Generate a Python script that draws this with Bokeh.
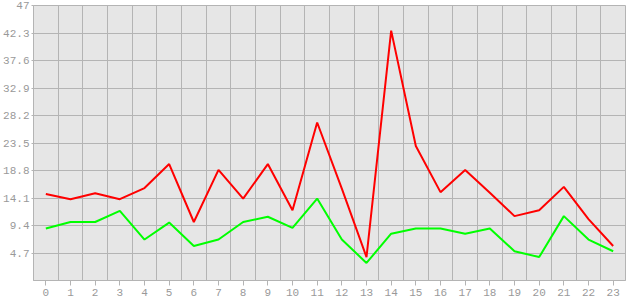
from bokeh.plotting import figure
from bokeh.models import FixedTicker, Range1d
from bokeh.embed import file_html
from bokeh.resources import INLINE

hours = list(range(24))
red_values = [14.8, 13.9, 14.9, 13.9, 15.8, 19.9, 10.0, 18.9, 14.0, 19.9, 12.0, 27.0,
              15.7, 4.0, 42.7, 23.0, 15.1, 18.9, 15.0, 11.0, 12.0, 16.0, 10.5, 5.9]
green_values = [8.9, 10.0, 10.0, 11.9, 7.0, 9.9, 5.9, 7.0, 10.0, 10.9, 9.0, 14.0,
                7.0, 3.0, 8.0, 8.9, 8.9, 8.0, 8.9, 5.0, 4.0, 11.0, 7.0, 5.0]
y_tick_labels = ["4.7", "9.4", "14.1", "18.8", "23.5", "28.2", "32.9", "37.6", "42.3", "47"]
y_ticks = [float(t) for t in y_tick_labels]

GRID = "#b4b4b4"
LABEL = "#999999"
FONT = "Liberation Mono"

p = figure(width=630, height=300, output_backend="svg", toolbar_location=None,
           x_range=Range1d(-0.5, 23.5), y_range=Range1d(0, 47),
           min_border_left=32, min_border_right=5, min_border_top=5, min_border_bottom=20)
p.background_fill_color = "#e6e6e6"
p.border_fill_color = "white"
p.outline_line_color = GRID
p.outline_line_width = 1

p.line(hours, red_values, line_color="#ff0000", line_width=2)
p.line(hours, green_values, line_color="#00ff00", line_width=2)

p.xaxis.ticker = FixedTicker(ticks=hours)
p.xgrid.ticker = FixedTicker(ticks=[h + 0.5 for h in hours])
p.yaxis.ticker = FixedTicker(ticks=y_ticks)
p.ygrid.ticker = FixedTicker(ticks=y_ticks)
p.yaxis.major_label_overrides = {v: s for v, s in zip(y_ticks, y_tick_labels)}

for g in (p.xgrid, p.ygrid):
    g.grid_line_color = GRID
    g.grid_line_width = 1

for ax in (p.xaxis, p.yaxis):
    ax.axis_line_color = GRID
    ax.major_tick_line_color = GRID
    ax.minor_tick_line_color = None
    ax.major_tick_in = 0
    ax.major_label_text_color = LABEL
    ax.major_label_text_font = FONT
    ax.major_label_text_font_size = "11px"

p.xaxis.major_tick_out = 5
p.xaxis.major_label_standoff = 3
p.yaxis.major_tick_out = 2
p.yaxis.major_label_standoff = 2

open("out.html", "w").write(file_html(p, INLINE))
